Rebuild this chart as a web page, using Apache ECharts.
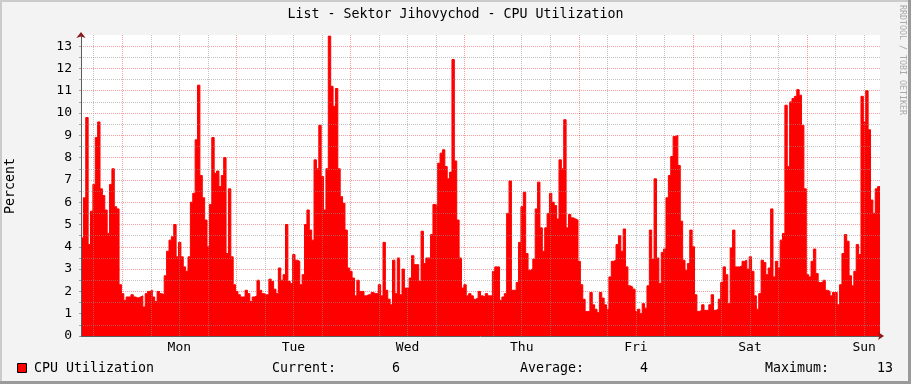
<!DOCTYPE html>
<html>
<head>
<meta charset="utf-8">
<script src="https://cdn.jsdelivr.net/npm/echarts@6/dist/echarts.min.js"></script>
<style>
html,body{margin:0;padding:0;background:#f3f3f3;}
#chart{width:911px;height:384px;}
</style>
</head>
<body>
<div id="chart"></div>
<script>
// ---- data ----
const titleText = 'List - Sektor Jihovychod - CPU Utilization';
const yAxisName = 'Percent';
const seriesName = 'CPU Utilization';
const dayNames = ['Mon', 'Tue', 'Wed', 'Thu', 'Fri', 'Sat', 'Sun'];
const startHour = -8.67;   // hours relative to Monday 00:00
const stepHours = 0.5;     // one sample per 30 minutes
const cpuValues = [
  4.4, 6.2, 9.8, 4.1, 5.6, 6.8, 8.9, 9.6, 6.6, 6.3, 5.65, 4.6,
  6.8, 7.5, 5.8, 5.7, 2.3, 1.9, 1.6, 1.75, 1.75, 1.85, 1.75, 1.7,
  1.75, 1.8, 1.3, 1.9, 2.0, 2.05, 1.75, 1.55, 2.0, 1.9, 1.85, 2.7,
  3.8, 4.3, 4.45, 5.0, 3.55, 4.2, 3.55, 3.1, 2.9, 3.55, 6.0, 6.4,
  8.8, 11.25, 7.2, 6.2, 5.2, 4.0, 5.9, 8.9, 7.3, 7.4, 6.7, 7.2,
  8.0, 3.7, 6.6, 3.55, 2.3, 2.0, 1.85, 1.75, 1.75, 2.05, 1.9, 1.55,
  1.75, 1.8, 2.5, 2.05, 1.9, 1.85, 1.85, 2.55, 2.45, 2.1, 1.9, 3.05,
  2.5, 2.75, 5.0, 2.45, 2.35, 3.65, 3.4, 3.35, 2.3, 2.75, 5.0, 5.65,
  4.75, 4.3, 7.9, 7.5, 9.45, 7.15, 5.65, 7.5, 13.45, 11.2, 10.3, 11.1,
  7.5, 6.25, 5.95, 4.75, 3.05, 2.9, 2.6, 1.8, 2.5, 2.0, 2.0, 1.8,
  1.85, 1.85, 1.95, 1.9, 1.9, 2.3, 1.8, 4.2, 2.05, 1.65, 1.4, 3.4,
  1.9, 3.5, 1.85, 3.0, 2.15, 2.15, 2.6, 3.6, 3.2, 3.2, 2.45, 4.7,
  3.25, 3.5, 3.5, 4.55, 5.9, 5.85, 7.75, 8.2, 8.35, 7.6, 7.05, 7.35,
  12.4, 7.85, 5.2, 3.5, 2.15, 2.3, 1.8, 1.9, 1.8, 1.65, 1.7, 2.0,
  1.8, 1.75, 1.9, 1.8, 1.8, 2.9, 3.1, 3.1, 1.6, 1.75, 1.9, 5.5,
  6.95, 2.05, 2.05, 2.4, 4.2, 5.8, 6.45, 3.7, 2.95, 3.0, 3.45, 5.7,
  6.9, 4.85, 3.8, 4.85, 5.5, 6.4, 6.0, 5.85, 5.25, 7.9, 7.5, 9.7,
  4.85, 5.45, 5.3, 5.25, 5.2, 3.35, 2.3, 1.65, 1.1, 1.1, 1.95, 1.4,
  1.2, 1.05, 1.95, 1.7, 1.4, 1.2, 2.65, 3.35, 3.4, 4.1, 4.5, 3.8,
  4.8, 3.1, 2.25, 2.2, 2.1, 1.1, 1.2, 1.0, 1.45, 1.25, 2.25, 4.75,
  3.45, 7.05, 3.5, 2.35, 3.75, 3.9, 6.2, 7.2, 8.05, 8.95, 9.0, 7.65,
  5.15, 3.4, 2.95, 3.25, 4.75, 4.0, 1.85, 1.1, 1.15, 1.4, 1.15, 1.15,
  1.4, 1.85, 1.15, 1.2, 1.65, 2.4, 3.1, 2.75, 1.45, 3.95, 4.75, 3.1,
  3.1, 3.15, 3.35, 3.4, 3.0, 3.55, 2.9, 1.8, 1.2, 1.9, 3.4, 3.3,
  2.75, 3.05, 5.7, 2.65, 3.35, 3.05, 4.3, 4.6, 10.35, 7.6, 10.5, 10.65,
  10.75, 11.05, 10.8, 9.45, 6.6, 2.75, 2.65, 3.35, 3.9, 2.8, 2.4, 2.4,
  2.5, 2.05, 2.0, 1.8, 1.95, 1.95, 1.4, 2.3, 3.7, 4.55, 4.25, 2.7,
  2.25, 2.9, 4.1, 3.65, 10.75, 9.6, 11.0, 9.25, 6.1, 5.5, 6.6, 6.7
];
const legendStats = [
  { label: 'Current:', value: '6' },
  { label: 'Average:', value: '4' },
  { label: 'Maximum:', value: '13' }
];
const yMin = 0, yMax = 13.5, yStep = 0.5;
const xGridStepHours = 6;
const dayHours = 24;

// ---- build ----
const endHour = startHour + cpuValues.length * stepHours;
const seriesData = cpuValues.map((v, i) => [startHour + i * stepHours, v]);
seriesData.push([endHour, cpuValues[cpuValues.length - 1]]);

const FONT = '"DejaVu Sans Mono", "Liberation Mono", monospace';
const MGRID = 'rgba(240,0,0,0.38)';
const GRID = 'rgba(143,143,143,0.55)';

const vLines = [];
for (let h = Math.ceil(startHour / xGridStepHours) * xGridStepHours; h < endHour; h += xGridStepHours) {
  vLines.push({ xAxis: h, lineStyle: { color: (h % dayHours === 0) ? MGRID : GRID, type: [1, 1], width: 1 } });
}
const labelHours = dayNames.map((d, i) => i * dayHours + dayHours / 2);

const chart = echarts.init(document.getElementById('chart'), null, { renderer: 'canvas' });

const statX = [272, 520, 765];
const statValRight = [400, 648, 893];
const graphics = [
  { type: 'rect', shape: { x: 0, y: 0, width: 911, height: 2 }, style: { fill: '#cbcbcb' }, silent: true },
  { type: 'rect', shape: { x: 0, y: 0, width: 2, height: 384 }, style: { fill: '#cbcbcb' }, silent: true },
  { type: 'rect', shape: { x: 908, y: 0, width: 3, height: 384 }, style: { fill: '#9a9a9a' }, silent: true },
  { type: 'rect', shape: { x: 0, y: 381, width: 911, height: 3 }, style: { fill: '#9a9a9a' }, silent: true },
  { type: 'text', x: 455.5, y: 14.5, style: { text: titleText, font: '13.3px ' + FONT, fill: '#000', align: 'center', verticalAlign: 'middle', textAlign: 'center', textVerticalAlign: 'middle' } },
  { type: 'text', x: 11, y: 186, rotation: Math.PI / 2, style: { text: yAxisName, font: '13.3px ' + FONT, fill: '#000', align: 'center', verticalAlign: 'middle', textAlign: 'center', textVerticalAlign: 'middle' } },
  { type: 'text', x: 902.5, y: 60, rotation: -Math.PI / 2, style: { text: 'RRDTOOL / TOBI OETIKER', font: '8.3px ' + FONT, fill: '#a8a8a8', align: 'center', verticalAlign: 'middle', textAlign: 'center', textVerticalAlign: 'middle' } },
  { type: 'rect', shape: { x: 17.5, y: 363.5, width: 9, height: 9 }, style: { fill: '#ff0000', stroke: '#000', lineWidth: 1 } },
  { type: 'text', x: 34, y: 368.5, style: { text: seriesName, font: '13.3px ' + FONT, fill: '#000', align: 'left', verticalAlign: 'middle', textAlign: 'left', textVerticalAlign: 'middle' } }
];
legendStats.forEach((s, i) => {
  graphics.push({ type: 'text', x: statX[i], y: 368.5, style: { text: s.label, font: '13.3px ' + FONT, fill: '#000', align: 'left', verticalAlign: 'middle', textAlign: 'left', textVerticalAlign: 'middle' } });
  graphics.push({ type: 'text', x: statValRight[i], y: 368.5, style: { text: s.value, font: '13.3px ' + FONT, fill: '#000', align: 'right', verticalAlign: 'middle', textAlign: 'right', textVerticalAlign: 'middle' } });
});

const option = {
  animation: false,
  backgroundColor: '#f3f3f3',
  grid: { left: 81, right: 31, top: 35, bottom: 48, show: true, backgroundColor: '#ffffff', borderWidth: 0 },
  xAxis: [{
    type: 'value', min: startHour, max: endHour, z: 5,
    axisLine: { show: true, onZero: false, lineStyle: { color: '#5c5c5c', width: 1 } },
    axisTick: { show: false },
    splitLine: { show: false },
    axisLabel: {
      customValues: labelHours,
      formatter: v => dayNames[Math.round((v - dayHours / 2) / dayHours)] || '',
      fontFamily: FONT, fontSize: 13, color: '#000', margin: 5
    }
  }, {
    type: 'value', min: startHour, max: endHour, position: 'bottom', z: 6,
    axisLine: { show: true, onZero: false, symbol: ['none', 'arrow'], symbolSize: [6, 6], symbolOffset: [0, 4], lineStyle: { color: '#8b1a1a', width: 0 } },
    axisTick: { show: false }, axisLabel: { show: false }, splitLine: { show: false }
  }],
  yAxis: [{
    type: 'value', min: yMin, max: yMax, interval: yStep, z: 5,
    axisLine: { show: true, onZero: false, lineStyle: { color: '#5c5c5c', width: 1 } },
    axisTick: { show: true, length: 2, lineStyle: { color: 'rgba(143,143,143,0.8)' } },
    splitLine: { show: true, showMaxLine: false, lineStyle: { color: [MGRID, GRID], type: [1, 1], width: 1 } },
    axisLabel: {
      formatter: v => (Math.abs(v - Math.round(v)) < 1e-6 ? String(Math.round(v)) : ''),
      fontFamily: FONT, fontSize: 13, color: '#000', margin: 9
    }
  }, {
    type: 'value', min: yMin, max: yMax, position: 'left', z: 6,
    axisLine: { show: true, onZero: false, symbol: ['none', 'arrow'], symbolSize: [7, 6], symbolOffset: [0, 3], lineStyle: { color: '#8b1a1a', width: 0 } },
    axisTick: { show: false }, axisLabel: { show: false }, splitLine: { show: false }
  }],
  series: [{
    name: seriesName,
    type: 'line',
    step: 'end',
    data: seriesData,
    showSymbol: false,
    symbol: 'none',
    z: 2,
    lineStyle: { color: '#ff0000', width: 1 },
    areaStyle: { color: '#ff0000', opacity: 1 },
    markLine: {
      silent: true, symbol: ['none', 'none'], label: { show: false },
      animation: false, data: vLines
    }
  }],
  graphic: graphics
};
chart.setOption(option);
</script>
</body>
</html>
